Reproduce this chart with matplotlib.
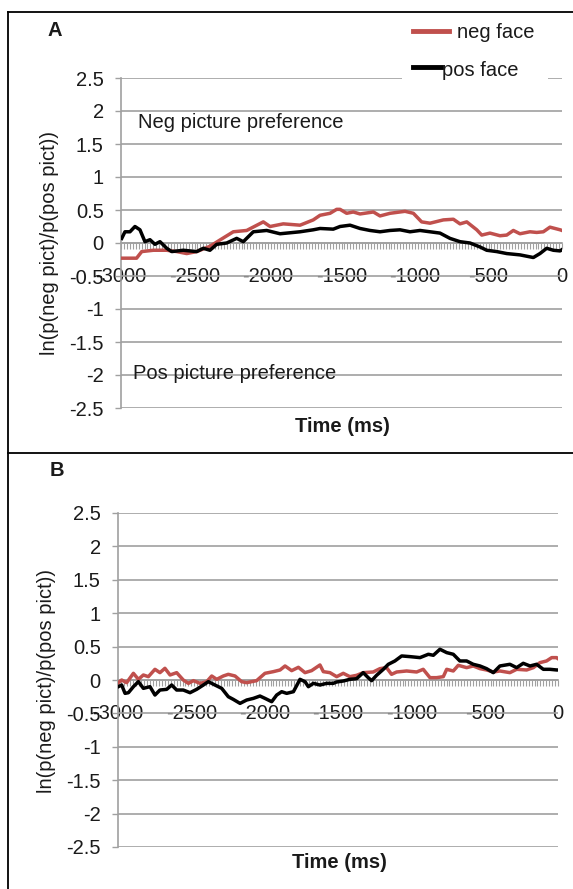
import matplotlib
matplotlib.use("Agg")
import matplotlib.pyplot as plt
from matplotlib.lines import Line2D
from matplotlib.patches import Rectangle
from matplotlib.ticker import MultipleLocator

plt.rcParams['font.family'] = ['Liberation Sans', 'DejaVu Sans']

# ---------------- data ----------------
a_neg_t = [-2995, -2894, -2859, -2780, -2689, -2621, -2553, -2485, -2395, -2327, -2236, -2145,
           -2032, -1986, -1896, -1782, -1692, -1646, -1578, -1533, -1510, -1465, -1420, -1374,
           -1283, -1238, -1170, -1068, -1011, -955, -898, -807, -739, -694, -648, -580, -546,
           -490, -422, -376, -331, -286, -218, -172, -127, -82, -13, 0]
a_neg_v = [-0.23, -0.23, -0.13, -0.11, -0.11, -0.13, -0.16, -0.13, -0.05, 0.045, 0.17, 0.19,
           0.32, 0.25, 0.29, 0.27, 0.35, 0.42, 0.45, 0.51, 0.51, 0.45, 0.47, 0.44,
           0.47, 0.41, 0.45, 0.48, 0.45, 0.32, 0.30, 0.35, 0.36, 0.29, 0.32, 0.20, 0.12,
           0.15, 0.11, 0.12, 0.19, 0.14, 0.17, 0.16, 0.17, 0.24, 0.20, 0.19]

a_pos_t = [-2995, -2973, -2939, -2905, -2871, -2837, -2803, -2769, -2735, -2689, -2655, -2576,
           -2485, -2440, -2395, -2349, -2281, -2213, -2168, -2100, -2009, -1918, -1782, -1692,
           -1646, -1556, -1510, -1442, -1374, -1306, -1238, -1170, -1102, -1034, -966, -898,
           -830, -762, -694, -626, -558, -512, -444, -376, -286, -195, -150, -104, -59, -13, 0]
a_pos_v = [0.07, 0.17, 0.17, 0.25, 0.20, 0.02, 0.05, -0.02, 0.02, -0.08, -0.13, -0.11,
           -0.13, -0.08, -0.11, -0.02, 0.0, 0.07, 0.02, 0.17, 0.19, 0.14, 0.17, 0.20,
           0.22, 0.21, 0.25, 0.27, 0.22, 0.19, 0.17, 0.19, 0.20, 0.17, 0.19, 0.17,
           0.15, 0.07, 0.02, 0.0, -0.06, -0.11, -0.13, -0.16, -0.18, -0.22, -0.16, -0.08, -0.11,
           -0.12, -0.10]

b_neg_t = [-2998, -2975, -2941, -2895, -2861, -2827, -2793, -2748, -2714, -2680, -2645, -2600,
           -2555, -2520, -2486, -2441, -2395, -2361, -2327, -2282, -2248, -2202, -2157, -2123,
           -2055, -1998, -1941, -1895, -1861, -1816, -1770, -1725, -1680, -1623, -1600, -1555,
           -1509, -1464, -1419, -1373, -1328, -1260, -1214, -1169, -1135, -1100, -1032, -964,
           -919, -873, -828, -782, -759, -714, -680, -623, -578, -532, -487, -441, -396, -328,
           -282, -214, -168, -123, -78, -43, -9, 0]
b_neg_v = [-0.04, 0.0, -0.04, 0.10, 0.01, 0.075, 0.05, 0.16, 0.11, 0.175, 0.075, 0.11,
           0.0, -0.05, -0.01, -0.05, -0.025, 0.06, 0.01, 0.06, 0.085, 0.06, -0.025, -0.04,
           -0.01, 0.10, 0.125, 0.15, 0.21, 0.14, 0.19, 0.11, 0.14, 0.225, 0.125, 0.11,
           0.05, 0.10, 0.05, 0.07, 0.11, 0.12, 0.17, 0.185, 0.085, 0.12, 0.135, 0.12,
           0.16, 0.035, 0.035, 0.05, 0.16, 0.135, 0.22, 0.185, 0.21, 0.17, 0.15, 0.12, 0.135, 0.11,
           0.16, 0.15, 0.185, 0.26, 0.285, 0.335, 0.335, 0.32]

b_pos_t = [-2998, -2975, -2952, -2929, -2895, -2861, -2827, -2782, -2748, -2714, -2668, -2634,
           -2600, -2555, -2509, -2464, -2418, -2384, -2339, -2293, -2248, -2214, -2168, -2123,
           -2077, -2032, -1998, -1952, -1918, -1884, -1850, -1804, -1759, -1725, -1702, -1668,
           -1623, -1577, -1532, -1510, -1464, -1419, -1373, -1328, -1294, -1271, -1237, -1191,
           -1157, -1112, -1066, -1010, -941, -884, -850, -805, -759, -714, -669, -623, -578,
           -532, -487, -441, -396, -328, -282, -237, -191, -146, -100, -55, -9, 0]
b_pos_v = [-0.10, -0.075, -0.20, -0.19, -0.10, -0.025, -0.125, -0.10, -0.225, -0.15, -0.14, -0.075,
           -0.15, -0.15, -0.19, -0.14, -0.075, -0.025, -0.075, -0.125, -0.25, -0.29, -0.35, -0.30,
           -0.275, -0.24, -0.275, -0.325, -0.225, -0.175, -0.20, -0.175, 0.01, -0.025, -0.10, -0.05,
           -0.075, -0.05, -0.05, -0.03, -0.015, 0.01, 0.02, 0.11, 0.035, -0.01, 0.07, 0.16,
           0.235, 0.285, 0.36, 0.35, 0.335, 0.385, 0.37, 0.46, 0.41, 0.385, 0.285, 0.285, 0.235,
           0.21, 0.17, 0.11, 0.21, 0.235, 0.185, 0.25, 0.21, 0.235, 0.16, 0.16, 0.15, 0.15]

y_ticks = [-2.5, -2, -1.5, -1, -0.5, 0, 0.5, 1, 1.5, 2, 2.5]
y_ticklabels = ["-2.5", "-2", "-1.5", "-1", "-0.5", "0", "0.5", "1", "1.5", "2", "2.5"]
x_ticks = [-3000, -2500, -2000, -1500, -1000, -500, 0]
x_ticklabels = ["-3000", "-2500", "-2000", "-1500", "-1000", "-500", "0"]
series_labels = ["neg face", "pos face"]
ylabel_text = "ln(p(neg pict)/p(pos pict))"
xlabel_text = "Time (ms)"

# ---------------- styling ----------------
W, H = 573, 889
RED = "#C0504D"
GRID = "#A0A0A0"
TXT = "#1a1a1a"
FS = 14.5

fig = plt.figure(figsize=(W / 100, H / 100), dpi=100)


def fx(px):
    return px / W


def fy(py):
    return 1 - py / H


def make_axes(left, right, top, bottom):
    return fig.add_axes([fx(left), fy(bottom), fx(right) - fx(left), fy(top) - fy(bottom)])


def style(ax, neg_t, neg_v, pos_t, pos_v):
    ax.plot(neg_t, neg_v, color=RED, lw=2.5, solid_joinstyle='round', zorder=3)
    ax.plot(pos_t, pos_v, color="black", lw=2.5, solid_joinstyle='round', zorder=4)
    ax.set_xlim(-3000, 0)
    ax.set_ylim(-2.5, 2.5)
    ax.set_yticks(y_ticks)
    ax.set_yticklabels(y_ticklabels)
    ax.set_xticks(x_ticks)
    ax.set_xticklabels(x_ticklabels)
    ax.xaxis.set_minor_locator(MultipleLocator(20))
    ax.grid(axis='y', color=GRID, lw=1.2, zorder=0)
    ax.set_axisbelow(True)
    for s in ['top', 'right']:
        ax.spines[s].set_visible(False)
    ax.spines['left'].set_color(GRID)
    ax.spines['left'].set_linewidth(1.2)
    ax.spines['bottom'].set_position(('data', 0))
    ax.spines['bottom'].set_color(GRID)
    ax.spines['bottom'].set_linewidth(1.2)
    ax.tick_params(axis='y', length=4.5, width=1.0, color=GRID, labelsize=FS, labelcolor=TXT, pad=8)
    ax.tick_params(axis='x', which='both', length=4, width=0.8, color=GRID, direction='out')
    ax.tick_params(axis='x', which='major', labelsize=FS, labelcolor=TXT, pad=13)
    ax.patch.set_alpha(0)


axA = make_axes(121, 562, 78, 408)
style(axA, a_neg_t, a_neg_v, a_pos_t, a_pos_v)
axA.text(0.038, 0.864, "Neg picture preference", transform=axA.transAxes, fontsize=FS,
         color=TXT, ha='left', va='center')
axA.text(0.027, 0.106, "Pos picture preference", transform=axA.transAxes, fontsize=FS,
         color=TXT, ha='left', va='center')

axB = make_axes(118, 558, 513, 847)
style(axB, b_neg_t, b_neg_v, b_pos_t, b_pos_v)

# axis titles
fig.text(fx(50), fy(243), ylabel_text, rotation=90, ha='center', va='center', fontsize=FS, color=TXT)
fig.text(fx(47), fy(681), ylabel_text, rotation=90, ha='center', va='center', fontsize=FS, color=TXT)
fig.text(fx(342), fy(426), xlabel_text, ha='center', va='center', fontsize=FS, fontweight='bold', color=TXT)
fig.text(fx(339), fy(862), xlabel_text, ha='center', va='center', fontsize=FS, fontweight='bold', color=TXT)

# panel letters
fig.text(fx(55), fy(31), "A", ha='center', va='center', fontsize=FS, fontweight='bold', color=TXT)
fig.text(fx(57), fy(470), "B", ha='center', va='center', fontsize=FS, fontweight='bold', color=TXT)

# legend (panel A)
fig.patches.append(Rectangle((fx(402), fy(88)), fx(548) - fx(402), fy(14) - fy(88),
                             transform=fig.transFigure, facecolor='white', edgecolor='none', zorder=1))
fig.lines.append(Line2D([fx(413), fx(449)], [fy(31), fy(31)], transform=fig.transFigure,
                        color=RED, lw=3.5, zorder=2))
fig.lines.append(Line2D([fx(413), fx(441)], [fy(67), fy(67)], transform=fig.transFigure,
                        color='black', lw=3.5, zorder=2))
fig.text(fx(457), fy(33), series_labels[0], ha='left', va='center', fontsize=FS, color=TXT, zorder=3)
fig.text(fx(442), fy(70), series_labels[1], ha='left', va='center', fontsize=FS, color=TXT, zorder=3)

# frame
fig.lines.append(Line2D([fx(8), fx(8)], [fy(11.7), 0], transform=fig.transFigure, color='black', lw=1.3))
fig.lines.append(Line2D([fx(8), 1], [fy(11.7), fy(11.7)], transform=fig.transFigure, color='black', lw=1.3))
fig.lines.append(Line2D([fx(8), 1], [fy(452.7), fy(452.7)], transform=fig.transFigure, color='black', lw=1.3))

fig.savefig("out.png", dpi=100, facecolor='white')
